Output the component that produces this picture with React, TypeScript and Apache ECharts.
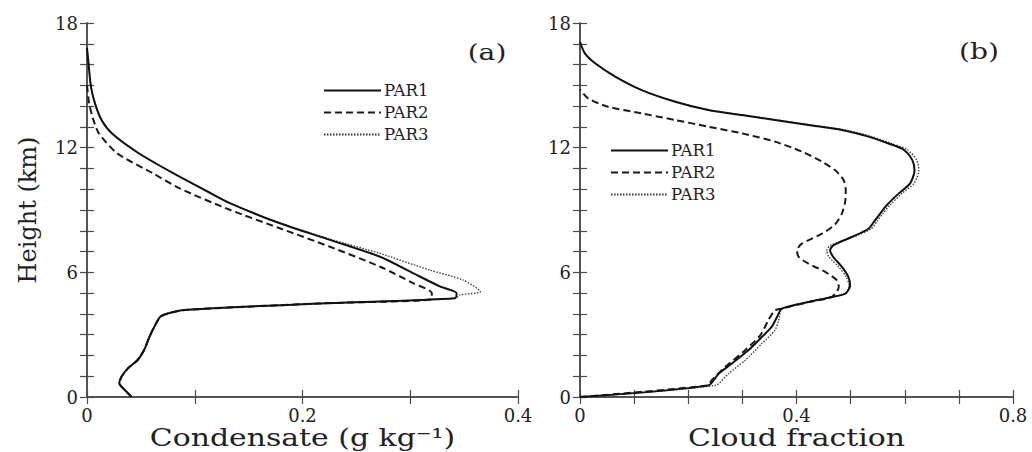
import React, { useEffect, useRef } from 'react';
import * as echarts from 'echarts';

// ---------- data: [value, height km] ----------
const seriesNames = ['PAR1', 'PAR2', 'PAR3'];

const condPar1: number[][] = [
  [0.0415, 0], [0.035, 0.34], [0.03, 0.66], [0.032, 0.98], [0.038, 1.38], [0.047, 1.78],
  [0.053, 2.26], [0.058, 2.9], [0.0625, 3.38], [0.068, 3.86], [0.0755, 4.03], [0.091, 4.19],
  [0.2147, 4.5], [0.3415, 4.75], [0.343, 5.0], [0.328, 5.31], [0.303, 5.95], [0.272, 6.75],
  [0.2255, 7.56], [0.179, 8.36], [0.133, 9.32], [0.115, 9.8], [0.08, 10.77], [0.048, 11.73],
  [0.023, 12.69], [0.0135, 13.33], [0.0074, 14.13], [0.0037, 14.93], [0.0015, 16], [0, 16.8],
];
const condPar2: number[][] = [
  [0.0415, 0], [0.035, 0.34], [0.03, 0.66], [0.032, 0.98], [0.038, 1.38], [0.047, 1.78],
  [0.053, 2.26], [0.058, 2.9], [0.0625, 3.38], [0.068, 3.86], [0.0755, 4.03], [0.091, 4.19],
  [0.2147, 4.5], [0.32, 4.72], [0.32, 5.0], [0.303, 5.47], [0.272, 6.27], [0.2255, 7.23],
  [0.179, 8.12], [0.133, 9.0], [0.086, 10.04], [0.061, 10.77], [0.028, 11.73], [0.011, 12.69],
  [0.006, 13.33], [0.002, 14.13], [0, 15.0],
];
const condPar3: number[][] = [
  [0.0415, 0], [0.035, 0.34], [0.03, 0.66], [0.032, 0.98], [0.038, 1.38], [0.047, 1.78],
  [0.053, 2.26], [0.058, 2.9], [0.0625, 3.38], [0.068, 3.86], [0.0755, 4.03], [0.091, 4.19],
  [0.2147, 4.5], [0.3415, 4.75], [0.346, 4.91], [0.365, 5.07], [0.349, 5.63], [0.318, 6.11],
  [0.272, 6.91], [0.2255, 7.6], [0.179, 8.38], [0.133, 9.32], [0.115, 9.8], [0.08, 10.77],
  [0.048, 11.73], [0.023, 12.69], [0.0135, 13.33], [0.0074, 14.13], [0.0037, 14.93], [0.0015, 16],
  [0, 16.8],
];

const cloudPar1: number[][] = [
  [0, 0], [0.237, 0.56], [0.256, 1.12], [0.28, 1.6], [0.311, 2.25], [0.336, 2.89], [0.354, 3.37],
  [0.364, 3.85], [0.373, 4.25], [0.422, 4.57], [0.459, 4.78], [0.49, 4.97], [0.499, 5.37],
  [0.496, 5.77], [0.484, 6.26], [0.468, 6.74], [0.462, 7.06], [0.468, 7.3], [0.502, 7.7],
  [0.533, 8.1], [0.545, 8.5], [0.555, 8.84], [0.567, 9.24], [0.589, 9.8], [0.61, 10.28],
  [0.618, 10.9], [0.614, 11.4], [0.598, 11.9], [0.57, 12.2], [0.533, 12.53], [0.484, 12.85],
  [0.422, 13.09], [0.36, 13.33], [0.299, 13.57], [0.237, 13.81], [0.176, 14.21], [0.114, 14.77],
  [0.065, 15.42], [0.028, 16.06], [0.009, 16.54], [0, 17.1],
];
const cloudPar2: number[][] = [
  [0, 0], [0.237, 0.56], [0.243, 0.8], [0.268, 1.44], [0.305, 2.25], [0.333, 2.97], [0.348, 3.69],
  [0.36, 4.17], [0.373, 4.25], [0.422, 4.57], [0.465, 4.81], [0.478, 5.29], [0.475, 5.61],
  [0.453, 6.02], [0.422, 6.42], [0.404, 6.74], [0.401, 7.06], [0.41, 7.38], [0.447, 7.86],
  [0.471, 8.3], [0.484, 8.84], [0.49, 9.4], [0.491, 9.96], [0.487, 10.44], [0.471, 10.92],
  [0.447, 11.33], [0.41, 11.81], [0.36, 12.29], [0.299, 12.69], [0.237, 13.01], [0.176, 13.33],
  [0.114, 13.65], [0.052, 13.97], [0.015, 14.37], [0, 14.8],
];
const cloudPar3: number[][] = [
  [0, 0], [0.25, 0.56], [0.274, 1.12], [0.305, 1.76], [0.336, 2.57], [0.36, 3.21], [0.367, 3.69],
  [0.373, 4.25], [0.422, 4.57], [0.459, 4.78], [0.49, 4.97], [0.497, 5.37], [0.492, 5.77],
  [0.478, 6.26], [0.46, 6.74], [0.456, 7.06], [0.463, 7.3], [0.505, 7.7], [0.538, 8.1],
  [0.55, 8.5], [0.56, 8.84], [0.573, 9.24], [0.595, 9.8], [0.617, 10.28], [0.626, 10.9],
  [0.622, 11.4], [0.605, 11.9], [0.576, 12.2], [0.54, 12.53], [0.49, 12.85], [0.428, 13.09],
  [0.365, 13.33], [0.302, 13.57], [0.239, 13.81], [0.177, 14.21], [0.114, 14.77], [0.065, 15.42],
  [0.028, 16.06], [0.009, 16.54], [0, 17.1],
];

const heightMax = 18;
const heightLabelStep = 6;
const condMax = 0.4;
const cloudMax = 0.8;
const panelLabels = ['(a)', '(b)'];
const axisTitles = ['Condensate (g kg⁻¹)', 'Cloud fraction', 'Height (km)'];

const FONT = 'DejaVu Serif';
const INK = '#222';
const AXIS = '#4a4a4a';
const STRETCH = 1.22;

const lineStyles = [
  { color: '#111', width: 2, type: 'solid' as any },
  { color: '#1a1a1a', width: 2, type: [7, 4] as any },
  { color: '#333', width: 1.3, type: [1.5, 1.5] as any },
];

export default function App() {
  const ref = useRef<HTMLDivElement>(null);

  useEffect(() => {
    if (!ref.current) return;
    const chart = echarts.init(ref.current, null, { renderer: 'svg' });

    const tickFmtX = (step: number) => (v: number) => {
      const k = Math.round(v * 10);
      if (k % step !== 0) return '';
      return k === 0 ? '0' : (k / 10).toString();
    };
    const tickFmtY = (v: number) => (Math.round(v) % heightLabelStep === 0 ? String(Math.round(v)) : '');

    const baseAxisLine = { show: true, lineStyle: { color: AXIS, width: 1.5 } };
    const baseTick = { show: true, inside: true, length: 7, lineStyle: { color: AXIS, width: 1.2 } };
    const labelStyle = { fontFamily: FONT, fontSize: 18, color: INK };

    const xAxes: any[] = [];
    const yAxes: any[] = [];
    [condMax, cloudMax].forEach((max, i) => {
      xAxes.push({
        gridIndex: i, type: 'value', min: 0, max, interval: 0.1, position: 'bottom',
        axisLine: baseAxisLine, axisTick: baseTick, splitLine: { show: false },
        axisLabel: { ...labelStyle, margin: 9, formatter: tickFmtX(i === 0 ? 2 : 4), showMaxLabel: true },
      });
      xAxes.push({
        gridIndex: i, type: 'value', min: 0, max, interval: 0.1, position: 'top',
        axisLine: baseAxisLine, axisTick: baseTick, splitLine: { show: false },
        axisLabel: { show: false },
      });
      yAxes.push({
        gridIndex: i, type: 'value', min: 0, max: heightMax, interval: 1, position: 'left',
        axisLine: baseAxisLine, axisTick: baseTick, splitLine: { show: false },
        axisLabel: { ...labelStyle, margin: 9, formatter: tickFmtY },
        name: i === 0 ? axisTitles[2] : '', nameLocation: 'middle', nameGap: 47, nameRotate: 90,
        nameTextStyle: { fontFamily: FONT, fontSize: 24, color: INK },
      });
      yAxes.push({
        gridIndex: i, type: 'value', min: 0, max: heightMax, interval: 1, position: 'right',
        axisLine: baseAxisLine, axisTick: baseTick, splitLine: { show: false },
        axisLabel: { show: false },
      });
    });

    const panels = [
      [condPar1, condPar2, condPar3],
      [cloudPar1, cloudPar2, cloudPar3],
    ];
    const series: any[] = [];
    panels.forEach((sets, i) => {
      sets.forEach((data, j) => {
        series.push({
          type: 'line', name: seriesNames[j], data,
          xAxisIndex: i * 2, yAxisIndex: i * 2,
          symbol: 'none', smooth: 0.25, clip: false,
          lineStyle: lineStyles[j], itemStyle: { color: lineStyles[j].color },
          z: 3 - j,
        });
      });
    });

    const legendBase = {
      orient: 'vertical', selectedMode: false, padding: 0, data: seriesNames,
      itemWidth: 57, itemHeight: 14, itemGap: 5,
      itemStyle: { opacity: 0 },
      textStyle: { fontFamily: FONT, fontSize: 16.5, color: INK, padding: [0, 0, 0, -2] },
    };

    const titleStyle = (text: string) => ({
      text, fontFamily: FONT, fontSize: 24.5, fill: INK, align: 'center', verticalAlign: 'middle',
    });

    chart.setOption({
      animation: false,
      backgroundColor: '#fff',
      grid: [
        { left: 87, top: 23, width: 431, height: 374 },
        { left: 580, top: 23, width: 433, height: 374 },
      ],
      xAxis: xAxes,
      yAxis: yAxes,
      legend: [
        { ...legendBase, left: 323, top: 82 },
        { ...legendBase, left: 610, top: 142 },
      ],
      series,
      graphic: [
        { type: 'text', x: 302.5, y: 437, scaleX: STRETCH, style: titleStyle(axisTitles[0]) },
        { type: 'text', x: 796.5, y: 437, scaleX: STRETCH, style: titleStyle(axisTitles[1]) },
        {
          type: 'text', x: 487, y: 52.5, scaleX: 1.28,
          style: { text: panelLabels[0], fontFamily: FONT, fontSize: 22, fill: INK, align: 'center', verticalAlign: 'middle' },
        },
        {
          type: 'text', x: 979, y: 52, scaleX: 1.28,
          style: { text: panelLabels[1], fontFamily: FONT, fontSize: 22, fill: INK, align: 'center', verticalAlign: 'middle' },
        },
      ],
    });

    return () => chart.dispose();
  }, []);

  return (
    <div
      ref={ref}
      style={{ position: 'fixed', left: 0, top: 0, width: 1032, height: 452, background: '#fff' }}
    />
  );
}
